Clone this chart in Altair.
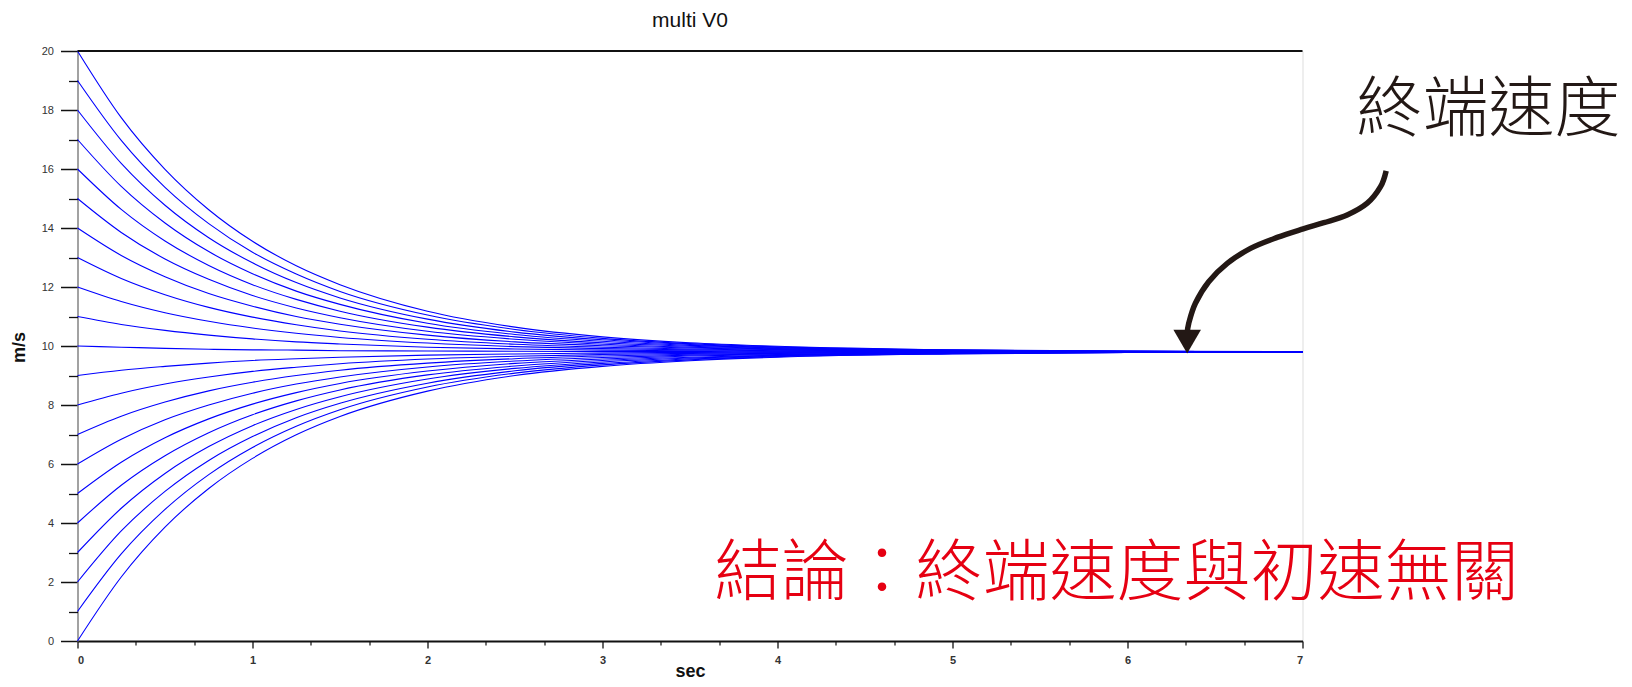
import altair as alt
import pandas as pd

times = [0, 0.25, 0.5, 0.75, 1, 1.25, 1.5, 2, 2.5, 3, 3.5, 4, 5, 6, 7]

# initial speeds V0 (m/s)
v0_list = list(range(21))

# speed (m/s), one row per V0, at the times above
speeds = [
    [0, 2.17, 3.86, 5.17, 6.19, 6.99, 7.61, 8.47, 9.00, 9.31, 9.50, 9.62, 9.73, 9.78, 9.79],
    [1, 2.95, 4.46, 5.64, 6.56, 7.28, 7.84, 8.61, 9.08, 9.36, 9.53, 9.64, 9.74, 9.78, 9.79],
    [2, 3.73, 5.07, 6.12, 6.93, 7.57, 8.06, 8.74, 9.16, 9.41, 9.56, 9.66, 9.75, 9.78, 9.79],
    [3, 4.50, 5.68, 6.59, 7.30, 7.85, 8.28, 8.88, 9.24, 9.46, 9.59, 9.68, 9.75, 9.78, 9.79],
    [4, 5.28, 6.28, 7.06, 7.67, 8.14, 8.51, 9.02, 9.32, 9.51, 9.62, 9.69, 9.76, 9.79, 9.80],
    [5, 6.06, 6.89, 7.53, 8.03, 8.42, 8.73, 9.15, 9.41, 9.56, 9.66, 9.71, 9.77, 9.79, 9.80],
    [6, 6.84, 7.50, 8.00, 8.40, 8.71, 8.95, 9.29, 9.49, 9.61, 9.69, 9.73, 9.77, 9.79, 9.80],
    [7, 7.62, 8.10, 8.48, 8.77, 9.00, 9.18, 9.42, 9.57, 9.66, 9.72, 9.75, 9.78, 9.79, 9.80],
    [8, 8.40, 8.71, 8.95, 9.14, 9.28, 9.40, 9.56, 9.65, 9.71, 9.75, 9.77, 9.79, 9.80, 9.80],
    [9, 9.18, 9.31, 9.42, 9.51, 9.57, 9.62, 9.69, 9.73, 9.76, 9.78, 9.79, 9.79, 9.80, 9.80],
    [10, 9.96, 9.92, 9.89, 9.87, 9.86, 9.84, 9.83, 9.82, 9.81, 9.81, 9.80, 9.80, 9.80, 9.80],
    [11, 10.73, 10.53, 10.37, 10.24, 10.14, 10.07, 9.96, 9.90, 9.86, 9.84, 9.82, 9.81, 9.80, 9.80],
    [12, 11.51, 11.13, 10.84, 10.61, 10.43, 10.29, 10.10, 9.98, 9.91, 9.87, 9.84, 9.81, 9.81, 9.80],
    [13, 12.29, 11.74, 11.31, 10.98, 10.72, 10.51, 10.23, 10.06, 9.96, 9.90, 9.86, 9.82, 9.81, 9.80],
    [14, 13.07, 12.35, 11.78, 11.35, 11.00, 10.74, 10.37, 10.14, 10.01, 9.93, 9.88, 9.83, 9.81, 9.80],
    [15, 13.85, 12.95, 12.26, 11.71, 11.29, 10.96, 10.50, 10.23, 10.06, 9.96, 9.90, 9.83, 9.81, 9.80],
    [16, 14.63, 13.56, 12.73, 12.08, 11.58, 11.18, 10.64, 10.31, 10.11, 9.99, 9.91, 9.84, 9.82, 9.81],
    [17, 15.41, 14.17, 13.20, 12.45, 11.86, 11.41, 10.77, 10.39, 10.16, 10.02, 9.93, 9.85, 9.82, 9.81],
    [18, 16.19, 14.77, 13.67, 12.82, 12.15, 11.63, 10.91, 10.47, 10.21, 10.05, 9.95, 9.86, 9.82, 9.81],
    [19, 16.97, 15.38, 14.15, 13.18, 12.44, 11.85, 11.05, 10.56, 10.26, 10.08, 9.97, 9.86, 9.82, 9.81],
    [20, 17.74, 15.99, 14.62, 13.55, 12.72, 12.08, 11.18, 10.64, 10.31, 10.11, 9.99, 9.87, 9.83, 9.81],
]

# axis ticks
x_major = [0, 1, 2, 3, 4, 5, 6, 7]
x_minor = [m + k / 3 for m in x_major[:-1] for k in (1, 2)]
y_major = [0, 2, 4, 6, 8, 10, 12, 14, 16, 18, 20]
y_minor = [1, 3, 5, 7, 9, 11, 13, 15, 17, 19]

# annotation arrow path (in chart units: sec, m/s)
arrow_x = [7.478, 7.446, 7.370, 7.255, 7.122, 7.004, 6.855, 6.703, 6.570, 6.464, 6.388, 6.350, 6.341]
arrow_y = [15.94, 15.40, 14.84, 14.44, 14.18, 13.97, 13.68, 13.31, 12.80, 12.18, 11.45, 10.77, 10.40]
arrow_head = {"x": 6.341, "y": 10.15}

title_text = "multi V0"
label_terminal = "終端速度"
label_conclusion = "結論：終端速度與初速無關"

rows = []
for v0, row in zip(v0_list, speeds):
    for t, v in zip(times, row):
        rows.append({"V0": v0, "t": t, "v": v})
df = pd.DataFrame(rows)

W, H = 1225, 590
xscale = alt.Scale(domain=[0, 7], nice=False, zero=False)
yscale = alt.Scale(domain=[0, 20], nice=False, zero=False)

x_axis = alt.Axis(
    orient="bottom", values=x_major, format="d",
    grid=False, tickSize=7, tickColor="#111", tickWidth=1.3,
    domainColor="#111", domainWidth=2,
    labelFont="Liberation Sans", labelFontSize=11, labelFontWeight="bold", labelColor="#333",
    labelPadding=6,
    title="sec", titleFont="Liberation Sans", titleFontSize=18, titleFontWeight="bold",
    titleColor="#111", titleX=W / 2, titleY=35, titleBaseline="alphabetic", titleAlign="center",
)
x_axis_minor = alt.Axis(
    orient="bottom", values=x_minor, labels=False, title=None, domain=False, grid=False,
    tickSize=4, tickColor="#111", tickWidth=1.2,
)
y_axis = alt.Axis(
    orient="left", values=y_major, format="d",
    grid=False, tickSize=17, tickColor="#111", tickWidth=1.5,
    domainColor="#888", domainWidth=1.5,
    labelFont="Liberation Sans", labelFontSize=11, labelColor="#333", labelPadding=7,
    title="m/s", titleFont="Liberation Sans", titleFontSize=18, titleFontWeight="bold",
    titleColor="#111", titleAngle=270, titleX=-58, titleY=H / 2 + 1,
    titleAlign="center", titleBaseline="middle",
)
y_axis_minor = alt.Axis(
    orient="left", values=y_minor, labels=False, title=None, domain=False, grid=False,
    tickSize=9, tickColor="#111", tickWidth=1.3,
)

curves = alt.Chart(df).mark_line(color="#0000ff", strokeWidth=1.1, interpolate="monotone").encode(
    x=alt.X("t:Q", scale=xscale, axis=x_axis),
    y=alt.Y("v:Q", scale=yscale, axis=y_axis),
    detail="V0:N",
)

border_df = pd.DataFrame({"x": [0, 7], "y": [20, 20]})
top_border = alt.Chart(border_df).mark_line(color="#111", strokeWidth=2).encode(
    x=alt.X("x:Q", scale=xscale, axis=x_axis_minor),
    y=alt.Y("y:Q", scale=yscale, axis=y_axis_minor),
)

arrow_df = pd.DataFrame({"x": arrow_x, "y": arrow_y, "o": list(range(len(arrow_x)))})
arrow = alt.Chart(arrow_df).mark_line(
    color="#231815", strokeWidth=5.5, interpolate="cardinal", clip=False, strokeCap="butt"
).encode(
    x=alt.X("x:Q", scale=xscale, axis=None), y=alt.Y("y:Q", scale=yscale, axis=None), order="o:Q"
)
head = alt.Chart(pd.DataFrame([arrow_head])).mark_point(
    shape="triangle-down", filled=True, color="#231815", size=760, opacity=1, clip=False
).encode(x=alt.X("x:Q", scale=xscale, axis=None), y=alt.Y("y:Q", scale=yscale, axis=None))

title_df = pd.DataFrame([{"x": 3.5, "y": 20.81, "label": title_text}])
title = alt.Chart(title_df).mark_text(
    font="Liberation Sans", fontSize=21, color="#111", align="center", baseline="alphabetic", clip=False
).encode(x=alt.X("x:Q", scale=xscale, axis=None), y=alt.Y("y:Q", scale=yscale, axis=None), text="label:N")

txt_df = pd.DataFrame([{"x": 8.063, "y": 17.97, "label": label_terminal}])
txt1 = alt.Chart(txt_df).mark_text(
    font="Noto Sans CJK TC", fontSize=66, fontWeight=300, color="#231815",
    align="center", baseline="middle", clip=False
).encode(x=alt.X("x:Q", scale=xscale, axis=None), y=alt.Y("y:Q", scale=yscale, axis=None), text="label:N")

txt2_df = pd.DataFrame([{"x": 5.937, "y": 2.24, "label": label_conclusion}])
txt2 = alt.Chart(txt2_df).mark_text(
    font="Noto Sans CJK TC", fontSize=67, fontWeight=300, color="#e60012",
    align="center", baseline="middle", clip=False
).encode(x=alt.X("x:Q", scale=xscale, axis=None), y=alt.Y("y:Q", scale=yscale, axis=None), text="label:N")

chart = alt.layer(curves, top_border, arrow, head, title, txt1, txt2).resolve_axis(
    x="independent", y="independent"
).properties(
    width=W, height=H,
    autosize=alt.AutoSizeParams(type="none"),
    padding={"left": 69.5, "top": 43, "right": 320, "bottom": 40},
).configure_view(stroke="#888", strokeWidth=1.5).configure(background="white")

chart.save("out.html", embed_options={"renderer": "svg", "actions": False})
